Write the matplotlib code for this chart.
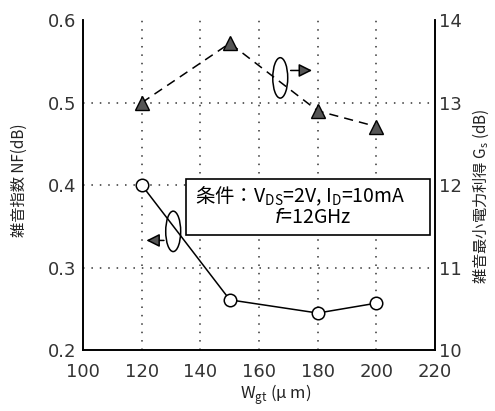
import matplotlib
matplotlib.use("Agg")
import matplotlib.pyplot as plt
from matplotlib.patches import Ellipse

plt.rcParams['font.family'] = ['Noto Sans CJK JP', 'DejaVu Sans']
plt.rcParams['mathtext.fontset'] = 'custom'
plt.rcParams['mathtext.rm'] = 'Noto Sans CJK JP'
plt.rcParams['mathtext.it'] = 'DejaVu Sans:italic'

# Gate width (um)
wgt = [120, 150, 180, 200]
# Noise figure NF (dB), left axis
nf = [0.40, 0.261, 0.245, 0.257]
# Gain Gs (dB), right axis
gs = [13.0, 13.72, 12.9, 12.71]

x_ticks = [100, 120, 140, 160, 180, 200, 220]
nf_ticks = [0.2, 0.3, 0.4, 0.5, 0.6]
nf_tick_labels = ['0.2', '0.3', '0.4', '0.5', '0.6']
gs_ticks = [10, 11, 12, 13, 14]

fig = plt.figure(figsize=(4.95, 4.11), dpi=100)
ax = fig.add_axes([0.168, 0.148, 0.711, 0.803])
ax2 = ax.twinx()

ax.set_xlim(100, 220)
ax.set_ylim(0.2, 0.6)
ax2.set_ylim(10, 14)

# dotted grid
dot = (0, (1, 4.5))
for xv in x_ticks[1:-1]:
    ax.plot([xv, xv], [0.2, 0.6], color='#333333', lw=1.1, ls=dot, zorder=1)
for yv in nf_ticks[1:-1]:
    ax.plot([100, 220], [yv, yv], color='#333333', lw=1.1, ls=dot, zorder=1)

for a in (ax, ax2):
    a.spines['top'].set_visible(False)
    for s in a.spines.values():
        s.set_linewidth(1.2)

ax.set_xticks(x_ticks)
ax.set_yticks(nf_ticks)
ax.set_yticklabels(nf_tick_labels)
ax2.set_yticks(gs_ticks)
ax.tick_params(axis='x', length=0, pad=9, labelsize=13)
ax.tick_params(axis='y', length=0, pad=5, labelsize=13)
ax2.tick_params(axis='y', length=0, pad=3, labelsize=13)
for lab in ax.get_xticklabels() + ax.get_yticklabels() + ax2.get_yticklabels():
    lab.set_family('DejaVu Sans')
    lab.set_color('#333333')

# NF curve: solid line, open circles
ax.plot(wgt, nf, color='black', lw=1.1, marker='o', ms=9, mfc='white',
        mec='black', mew=1.1, zorder=5)
# Gain curve: dashed line, dark filled triangles
ax2.plot(wgt, gs, color='black', lw=1.1, ls=(0, (6, 4)), marker='^', ms=10,
         mfc='#555555', mec='black', mew=1.0, zorder=5)

# conditions box
box_left, box_right, box_bottom, box_top = 135.1, 218.3, 0.340, 0.407
ax.add_patch(plt.Rectangle((box_left, box_bottom), box_right - box_left,
                           box_top - box_bottom, facecolor='white',
                           edgecolor='black', lw=1.2, zorder=6))
ax.text(174.0, 0.387,
        r'条件：V$_{\rm DS}$=2V, I$_{\rm D}$=10mA', ha='center', va='center',
        fontsize=14, zorder=7)
ax.text(178.4, 0.361, r'$f$=12GHz', ha='center',
        va='center', fontsize=14, zorder=7)

# series indicators: ellipse plus arrow pointing toward its axis
ax.add_patch(Ellipse((130.7, 0.344), 5.1, 0.049, fill=False, ec='black',
                     lw=1.1, zorder=8))
ax.annotate('', xy=(120.6, 0.333), xytext=(128.5, 0.333),
            arrowprops=dict(arrowstyle='-|>,head_length=0.8,head_width=0.4',
                            fc='#555555', ec='black', lw=1.1), zorder=8)
ax.add_patch(Ellipse((167.2, 0.530), 5.1, 0.049, fill=False, ec='black',
                     lw=1.1, zorder=8))
ax.annotate('', xy=(179.0, 0.539), xytext=(169.8, 0.539),
            arrowprops=dict(arrowstyle='-|>,head_length=0.8,head_width=0.4',
                            fc='#555555', ec='black', lw=1.1), zorder=8)

fig.text(0.040, 0.562, '雑音指数 NF(dB)', rotation=90, ha='center',
         va='center', fontsize=11, color='#222222')
fig.text(0.972, 0.523, r'雑音最小電力利得 G$_{\rm s}$ (dB)', rotation=90,
         ha='center', va='center', fontsize=11, color='#222222')
fig.text(0.556, 0.038, r'W$_{\rm gt}$ (μ m)', ha='center', va='center',
         fontsize=12, color='#222222')

fig.savefig('out.png', dpi=100)
